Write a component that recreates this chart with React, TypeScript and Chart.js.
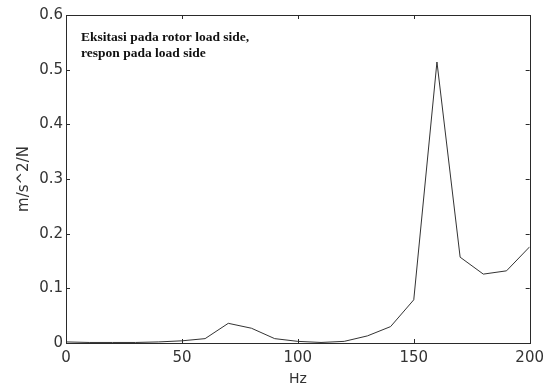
import React, { useEffect, useRef } from "react";
import { Chart, registerables } from "chart.js";

Chart.register(...registerables);

const freqHz = [0, 10, 20, 30, 40, 50, 60, 70, 80, 90, 100, 110, 120, 130, 140, 150, 160, 170, 180, 190, 200];
const response = [0.002, 0.001, 0.001, 0.001, 0.002, 0.004, 0.008, 0.036, 0.027, 0.008, 0.003, 0.001, 0.003, 0.013, 0.03, 0.079, 0.514, 0.157, 0.126, 0.132, 0.176];
const xTicks = [0, 50, 100, 150, 200];
const yTicks = [0, 0.1, 0.2, 0.3, 0.4, 0.5, 0.6];
const annotationLines = ["Eksitasi pada rotor load side,", "respon pada load side"];
const xTitle = "Hz";
const yTitle = "m/s^2/N";

const INK = "#2a2a2a";

const boxPlugin = {
  id: "matlabBox",
  afterDraw(chart: any) {
    const { ctx, chartArea: a, scales } = chart;
    const xs = scales.x;
    const ys = scales.y;
    ctx.save();
    ctx.strokeStyle = INK;
    ctx.lineWidth = 1;
    ctx.strokeRect(Math.round(a.left) + 0.5, Math.round(a.top) + 0.5, Math.round(a.right - a.left), Math.round(a.bottom - a.top));
    const tl = 4;
    ctx.beginPath();
    xTicks.forEach((v) => {
      const px = Math.round(xs.getPixelForValue(v)) + 0.5;
      ctx.moveTo(px, a.bottom);
      ctx.lineTo(px, a.bottom - tl);
      ctx.moveTo(px, a.top);
      ctx.lineTo(px, a.top + tl);
    });
    yTicks.forEach((v) => {
      const py = Math.round(ys.getPixelForValue(v)) + 0.5;
      ctx.moveTo(a.left, py);
      ctx.lineTo(a.left + tl, py);
      ctx.moveTo(a.right, py);
      ctx.lineTo(a.right - tl, py);
    });
    ctx.stroke();
    // annotation text
    ctx.fillStyle = "#111";
    ctx.font = "bold 13.5px 'Liberation Serif', 'DejaVu Serif', serif";
    ctx.textAlign = "left";
    ctx.textBaseline = "middle";
    annotationLines.forEach((t, i) => {
      ctx.fillText(t, a.left + 15, a.top + 23 + i * 16);
    });
    ctx.restore();
  },
};

export default function App() {
  const ref = useRef<HTMLCanvasElement | null>(null);
  useEffect(() => {
    if (!ref.current) return;
    const chart = new Chart(ref.current, {
      type: "line",
      data: {
        datasets: [
          {
            data: freqHz.map((x, i) => ({ x, y: response[i] })),
            borderColor: "#333",
            borderWidth: 1,
            pointRadius: 0,
            tension: 0,
            fill: false,
          },
        ],
      },
      options: {
        animation: false,
        responsive: false,
        maintainAspectRatio: false,
        layout: { padding: { top: 15, right: 19, left: 0, bottom: 0 } },
        plugins: { legend: { display: false }, tooltip: { enabled: false } },
        scales: {
          x: {
            type: "linear",
            min: 0,
            max: 200,
            afterBuildTicks: (s: any) => {
              s.ticks = xTicks.map((v) => ({ value: v }));
            },
            afterFit: (s: any) => {
              s.height = 47;
            },
            grid: { display: false, drawTicks: false },
            border: { display: false },
            ticks: {
              padding: 6,
              color: "#333",
              font: { family: "'DejaVu Sans', sans-serif", size: 15 },
              callback: (v: any) => String(v),
            },
            title: {
              display: true,
              text: xTitle,
              color: "#333",
              font: { family: "'DejaVu Sans', sans-serif", size: 14 },
              padding: { top: 0, bottom: 2 },
            },
          },
          y: {
            type: "linear",
            min: 0,
            max: 0.6,
            afterBuildTicks: (s: any) => {
              s.ticks = yTicks.map((v) => ({ value: v }));
            },
            afterFit: (s: any) => {
              s.width = 66;
            },
            grid: { display: false, drawTicks: false },
            border: { display: false },
            ticks: {
              padding: 3,
              color: "#333",
              font: { family: "'DejaVu Sans', sans-serif", size: 15 },
              callback: (v: any) => (v === 0 ? "0" : Number(v).toFixed(1)),
            },
            title: {
              display: true,
              text: yTitle,
              color: "#333",
              font: { family: "'DejaVu Sans', sans-serif", size: 15 },
              padding: { top: 15, bottom: 0 },
            },
          },
        },
      },
      plugins: [boxPlugin],
    });
    return () => chart.destroy();
  }, []);
  return (
    <div style={{ position: "fixed", left: 0, top: 0, width: 550, height: 390, background: "#fff" }}>
      <canvas ref={ref} width={550} height={390} style={{ width: 550, height: 390 }} />
    </div>
  );
}
